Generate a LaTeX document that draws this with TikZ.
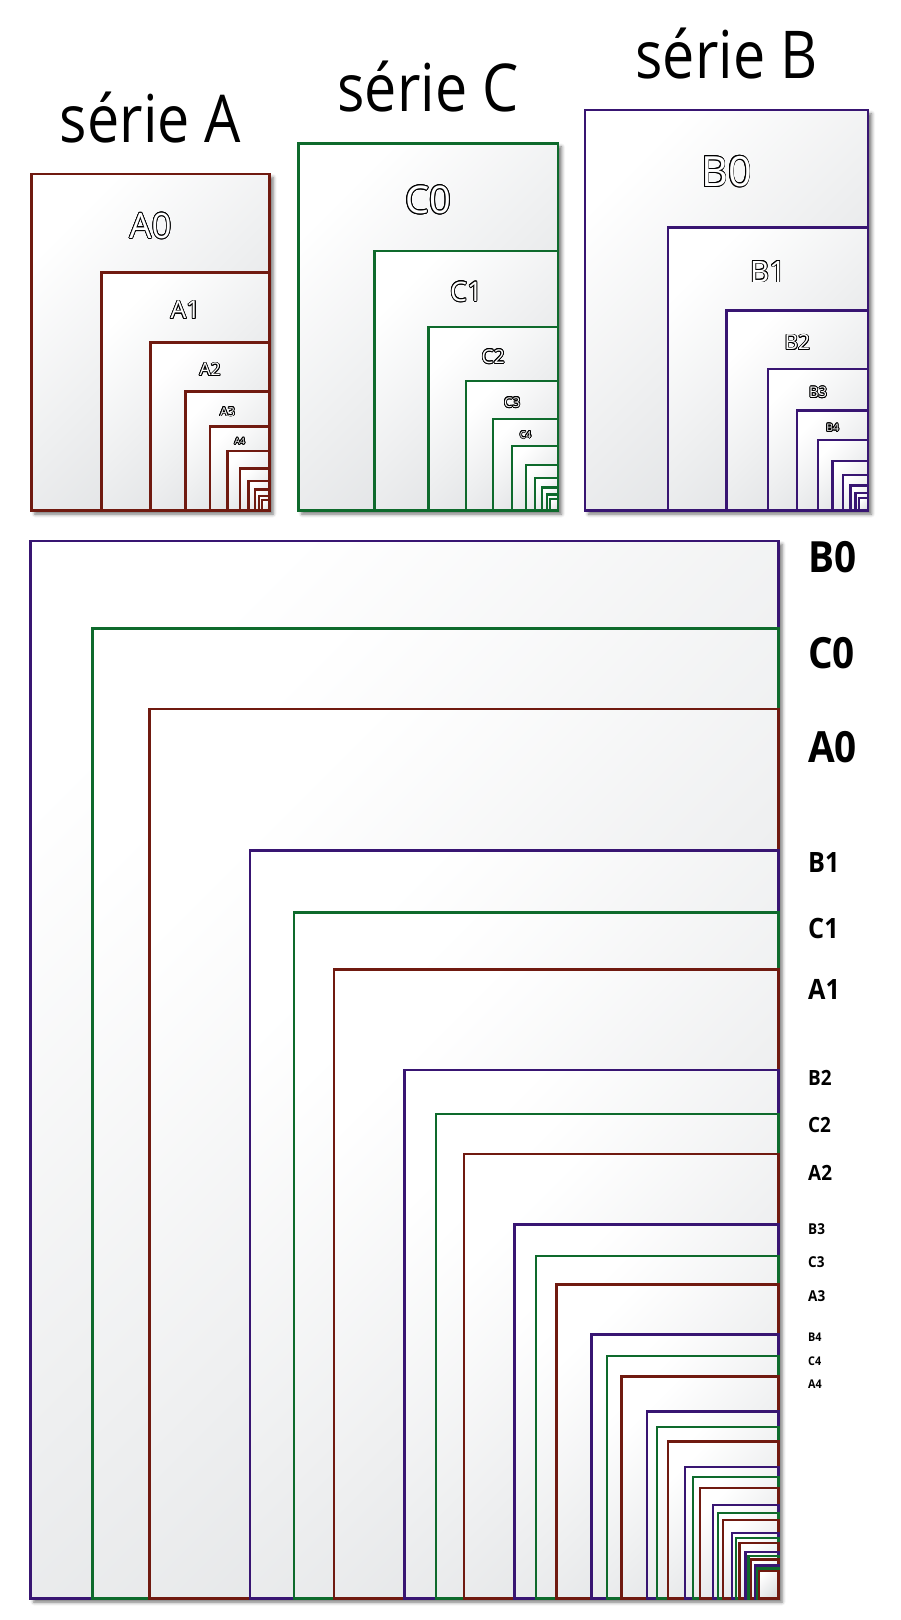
\documentclass[tikz,border=0pt]{standalone}
\usepackage{fontspec}
\setmainfont{Open Sans}
\usepackage{graphicx}
\usepackage{contour}
\usetikzlibrary{shadows.blur}
\definecolor{colA}{HTML}{701A10}
\definecolor{colB}{HTML}{381572}
\definecolor{colC}{HTML}{0E6A2C}
\definecolor{paperlo}{HTML}{DDDFE1}
\contourlength{0.8pt}
\tikzset{
  sheet/.style={line width=2.3pt, top color=white, bottom color=paperlo, shading angle=45},
  outer/.style={fill=white, blur shadow={shadow xshift=3.5pt, shadow yshift=-3.5pt, shadow blur radius=3.5pt, shadow opacity=55}},
  title/.style={anchor=base, inner sep=0pt, font=\fontsize{66}{70}\selectfont},
  side/.style={anchor=base west, inner sep=0pt},
}
\def\listA{841/1189,594/841,420/594,297/420,210/297,148/210,105/148,74/105,52/74,37/52,26/37}
\def\listB{1000/1414,707/1000,500/707,353/500,250/353,176/250,125/176,88/125,62/88,44/62,31/44}
\def\listC{917/1297,648/917,458/648,324/458,229/324,162/229,114/162,81/114,57/81,40/57,28/40}
\newcommand\toppanel[4]{%
  \path[outer] ({#3-\csname first#1\endcsname*0.283},{510.5-\csname firsth#1\endcsname*0.283}) rectangle (#3,510.5);
  \foreach \w/\h [count=\i from 0] in #4 {
    \path[sheet, draw=#2] ({#3-\w*0.283},{510.5-\h*0.283}) rectangle (#3,510.5);
    \ifnum\i<5
      \pgfmathsetmacro\fs{0.147*\w*0.283}
      \node[inner sep=0pt, font=\fontsize{\fs}{\fs}\selectfont] (top#1\i) at ({#3-\w*0.283/2},{510.5-(\h+\w)/2*0.283+3}) {\contour{black}{\textcolor{white}{#1\i}}};
    \fi
  }%
}
\def\firstA{841}\def\firsthA{1189}
\def\firstB{1000}\def\firsthB{1414}
\def\firstC{917}\def\firsthC{1297}
\newcommand\sidelabel[5]{% name, x, baseline, size, text
  \node[side, font=\bfseries\fontsize{#4}{#4}\selectfont] (#1) at (#2,#3) {\scalebox{0.9}[1]{#5}};}
\begin{document}
\begin{tikzpicture}[x=1pt, y=-1pt]
\useasboundingbox (0,0) rectangle (900,1620);
% titles
\node[title] (titleA) at (150.5,142) {\scalebox{0.87}[1]{série A}};
\node[title] (titleC) at (428,111) {\scalebox{0.87}[1]{série C}};
\node[title] (titleB) at (726.5,78.5) {\scalebox{0.87}[1]{série B}};
% top panels
\toppanel{A}{colA}{269.5}{\listA}
\toppanel{C}{colC}{558}{\listC}
\toppanel{B}{colB}{868}{\listB}
% big comparison
\path[outer] ({778.5-1000*0.748},{1598.5-1414*0.748}) rectangle (778.5,1598.5);
\foreach \bw/\bh/\cw/\ch/\aw/\ah in {1000/1414/917/1297/841/1189, 707/1000/648/917/594/841, 500/707/458/648/420/594, 353/500/324/458/297/420, 250/353/229/324/210/297, 176/250/162/229/148/210, 125/176/114/162/105/148, 88/125/81/114/74/105, 62/88/57/81/52/74, 44/62/40/57/37/52, 31/44/28/40/26/37} {
  \path[sheet, draw=colB] ({778.5-\bw*0.748},{1598.5-\bh*0.748}) rectangle (778.5,1598.5);
  \path[sheet, draw=colC] ({778.5-\cw*0.748},{1598.5-\ch*0.748}) rectangle (778.5,1598.5);
  \path[sheet, draw=colA] ({778.5-\aw*0.748},{1598.5-\ah*0.748}) rectangle (778.5,1598.5);
}
% side labels
\sidelabel{sB0}{808}{572}{43}{B0}
\sidelabel{sC0}{808}{668}{43}{C0}
\sidelabel{sA0}{808}{762}{43}{A0}
\sidelabel{sB1}{808}{872}{28}{B1}
\sidelabel{sC1}{808}{938}{28}{C1}
\sidelabel{sA1}{808}{999}{28}{A1}
\sidelabel{sB2}{808}{1085}{21}{B2}
\sidelabel{sC2}{808}{1132}{21}{C2}
\sidelabel{sA2}{808}{1180}{21}{A2}
\sidelabel{sB3}{808}{1234}{15}{B3}
\sidelabel{sC3}{808}{1267}{15}{C3}
\sidelabel{sA3}{808}{1301}{15}{A3}
\sidelabel{sB4}{808}{1341}{12}{B4}
\sidelabel{sC4}{808}{1365}{12}{C4}
\sidelabel{sA4}{808}{1388}{12}{A4}
\end{tikzpicture}
\end{document}
